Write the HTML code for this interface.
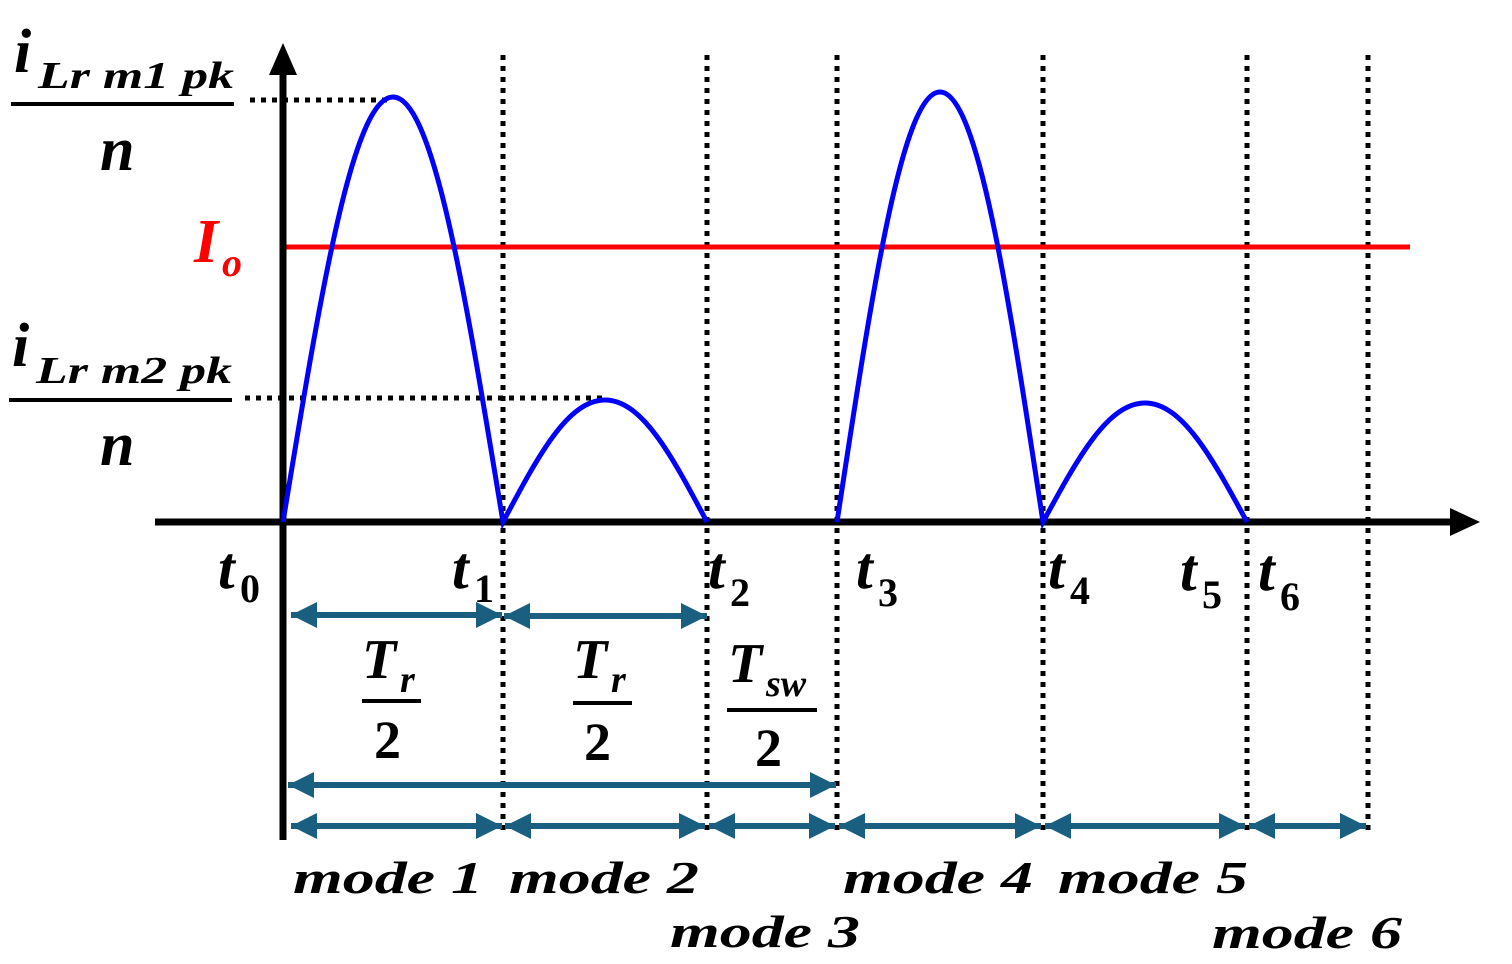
<!DOCTYPE html>
<html><head><style>html,body{margin:0;padding:0;background:#fff;}svg{display:block}</style></head><body>
<svg width="1512" height="964" viewBox="0 0 1512 964" xmlns="http://www.w3.org/2000/svg" font-family="Liberation Serif, serif" font-weight="bold" font-style="italic">
<defs>
<marker id="ah" markerWidth="26" markerHeight="26" refX="10" refY="5" orient="auto-start-reverse" markerUnits="userSpaceOnUse" viewBox="0 0 10 10"><path d="M0,0 L10,5 L0,10 Z" fill="#1a5f80"/></marker>
</defs>
<g stroke="#000" stroke-width="5" stroke-dasharray="5,6">
<line x1="503" y1="55" x2="503" y2="830"/>
<line x1="707" y1="55" x2="707" y2="830"/>
<line x1="837" y1="55" x2="837" y2="830"/>
<line x1="1043" y1="55" x2="1043" y2="830"/>
<line x1="1247" y1="55" x2="1247" y2="830"/>
<line x1="1368" y1="55" x2="1368" y2="830"/>
<line x1="250" y1="100" x2="393" y2="100"/>
<line x1="245" y1="398" x2="605" y2="398"/>
</g>
<line x1="283" y1="247" x2="1410" y2="247" stroke="#f00" stroke-width="5"/>
<line x1="155" y1="522" x2="1455" y2="522" stroke="#000" stroke-width="7"/>
<path d="M1480 522 L1450 508 L1450 536 Z" fill="#000"/>
<line x1="283" y1="840" x2="283" y2="70" stroke="#000" stroke-width="7"/>
<path d="M283 43 L269 75 L297 75 Z" fill="#000"/>
<path fill="none" stroke="#00f" stroke-width="5" d="M283 522 C319.7 299.5 352.3 97 393 97 C433.7 97 466.3 299.5 503 522 C537 458.1 567.3 400 605 400 C642.7 400 673 458.1 707 522 M837 522 C871.3 296.9 901.9 92 940 92 C978.1 92 1008.7 296.9 1043 522 C1077 459.7 1107.3 403 1145 403 C1182.7 403 1213 459.7 1247 522"/>
<g stroke="#1a5f80" stroke-width="6" marker-start="url(#ah)" marker-end="url(#ah)">
<line x1="291" y1="615" x2="502" y2="615"/>
<line x1="504" y1="616" x2="707" y2="616"/>
<line x1="288" y1="785" x2="836" y2="785"/>
<line x1="291" y1="826" x2="502" y2="826"/>
<line x1="505" y1="826" x2="705" y2="826"/>
<line x1="709" y1="826" x2="835" y2="826"/>
<line x1="839" y1="826" x2="1041" y2="826"/>
<line x1="1045" y1="826" x2="1245" y2="826"/>
<line x1="1249" y1="826" x2="1366" y2="826"/>
</g>
<g fill="#000">
<text x="14" y="72" font-size="62">i</text>
<text x="38" y="88" font-size="38" textLength="196" lengthAdjust="spacingAndGlyphs">Lr m1 pk</text>
<line x1="11" y1="104" x2="234" y2="104" stroke="#000" stroke-width="4"/>
<text x="100" y="170" font-size="62">n</text>
<text x="12" y="366" font-size="62">i</text>
<text x="36" y="383" font-size="38" textLength="196" lengthAdjust="spacingAndGlyphs">Lr m2 pk</text>
<line x1="9" y1="400" x2="232" y2="400" stroke="#000" stroke-width="4"/>
<text x="100" y="465" font-size="62">n</text>
</g>
<text x="194" y="262" font-size="62" fill="#f00">I</text>
<text x="222" y="276" font-size="40" fill="#f00">o</text>
<g fill="#000" font-size="60">
<text x="218" y="588">t</text><text x="240" y="602" font-size="40" font-style="normal">0</text>
<text x="452" y="588">t</text><text x="474" y="602" font-size="40" font-style="normal">1</text>
<text x="708" y="588">t</text><text x="730" y="606" font-size="40" font-style="normal">2</text>
<text x="856" y="588">t</text><text x="878" y="606" font-size="40" font-style="normal">3</text>
<text x="1048" y="588">t</text><text x="1070" y="604" font-size="40" font-style="normal">4</text>
<text x="1180" y="590">t</text><text x="1202" y="608" font-size="40" font-style="normal">5</text>
<text x="1258" y="590">t</text><text x="1280" y="610" font-size="40" font-style="normal">6</text>
</g>
<g fill="#000">
<text x="362" y="678" font-size="56">T</text><text x="400" y="692" font-size="38">r</text>
<line x1="362" y1="701" x2="421" y2="701" stroke="#000" stroke-width="4"/>
<text x="374" y="758" font-size="54" font-style="normal">2</text>
<text x="573" y="678" font-size="56">T</text><text x="611" y="692" font-size="38">r</text>
<line x1="573" y1="703" x2="632" y2="703" stroke="#000" stroke-width="4"/>
<text x="584" y="760" font-size="54" font-style="normal">2</text>
<text x="728" y="682" font-size="56">T</text><text x="766" y="696" font-size="38">sw</text>
<line x1="727" y1="710" x2="817" y2="710" stroke="#000" stroke-width="4"/>
<text x="755" y="766" font-size="54" font-style="normal">2</text>
</g>
<g fill="#000" font-size="46">
<text x="293" y="893" textLength="190" lengthAdjust="spacingAndGlyphs">mode 1</text>
<text x="509" y="893" textLength="190" lengthAdjust="spacingAndGlyphs">mode 2</text>
<text x="670" y="947" textLength="190" lengthAdjust="spacingAndGlyphs">mode 3</text>
<text x="843" y="893" textLength="190" lengthAdjust="spacingAndGlyphs">mode 4</text>
<text x="1058" y="893" textLength="190" lengthAdjust="spacingAndGlyphs">mode 5</text>
<text x="1212" y="948" textLength="190" lengthAdjust="spacingAndGlyphs">mode 6</text>
</g>
</svg>
</body></html>
